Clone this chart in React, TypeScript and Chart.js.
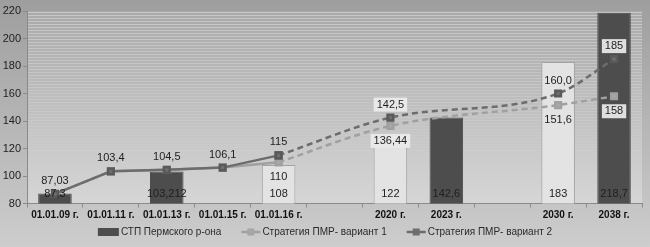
import React, { useEffect, useRef } from "react";
import { Chart, registerables } from "chart.js";

Chart.register(...registerables);

const categories = ["01.01.09 г.", "01.01.11 г.", "01.01.13 г.", "01.01.15 г.", "01.01.16 г.", "", "2020 г.", "2023 г.", "", "2030 г.", "2038 г."];
const stpValues = [87.3, null, 103.212, null, 108, null, 122, 142.6, null, 183, 218.7];
const stpLabels = ["87,3", "", "103,212", "", "108", "", "122", "142,6", "", "183", "218,7"];
const stpDark = [true, false, true, false, false, false, false, true, false, false, true];
const var1Values = [87.03, 103.4, 104.5, 106.1, 110, null, 136.44, null, null, 151.6, 158];
const var1Labels = ["", "", "", "", "110", "", "136,44", "", "", "151,6", "158"];
const var2Values = [87.03, 103.4, 104.5, 106.1, 115, null, 142.5, null, null, 160, 185];
const var2Labels = ["87,03", "103,4", "104,5", "106,1", "115", "", "142,5", "", "", "160,0", "185"];
const boxedLabels1 = [6, 10];
const boxedLabels2 = [6, 10];
const lastFactIndex = 4;
const yTicks = [80, 100, 120, 140, 160, 180, 200, 220];
const seriesNames = ["СТП Пермского р-она", "Стратегия ПМР- вариант 1", "Стратегия ПМР- вариант 2"];

const FONT = "'Liberation Sans', Arial, sans-serif";

const fact = (arr: (number | null)[]) => arr.map((v, i) => (i <= lastFactIndex ? v : null));
const plan = (arr: (number | null)[]) => arr.map((v, i) => (i >= lastFactIndex ? v : null));

const bgPlugin = {
  id: "bgPlugin",
  beforeDraw(chart: any) {
    const { ctx, width, height, chartArea } = chart;
    ctx.save();
    const g = ctx.createLinearGradient(0, 0, 0, height);
    g.addColorStop(0, "#9e9e9e");
    g.addColorStop(1, "#cdcdcd");
    ctx.fillStyle = g;
    ctx.fillRect(0, 0, width, height);
    const { left, right, top, bottom } = chartArea;
    const g2 = ctx.createLinearGradient(0, top, 0, bottom);
    g2.addColorStop(0, "#a9a9a9");
    g2.addColorStop(1, "#d6d6d6");
    ctx.fillStyle = g2;
    ctx.fillRect(left, top, right - left, bottom - top);
    for (let y = top + 1; y < bottom; y += 3) {
      const t = (y - top) / (bottom - top);
      const a = Math.max(0, 0.55 * (1 - t * 1.1));
      ctx.fillStyle = `rgba(225,225,225,${a})`;
      ctx.fillRect(left + 1, y, right - left - 1, 1);
    }
    ctx.restore();
  },
};

const labelPlugin = {
  id: "labelPlugin",
  afterDatasetsDraw(chart: any) {
    const { ctx, chartArea } = chart;
    ctx.save();
    ctx.font = `11px ${FONT}`;
    ctx.textAlign = "center";
    ctx.textBaseline = "middle";
    const barMeta = chart.getDatasetMeta(0);
    barMeta.data.forEach((el: any, i: number) => {
      if (!stpLabels[i]) return;
      ctx.fillStyle = "#1e1e1e";
      ctx.fillText(stpLabels[i], el.x, chartArea.bottom - 10);
    });
    const xs = chart.scales.x;
    const ys = chart.scales.y;
    const drawSet = (values: (number | null)[], labels: string[], boxed: number[], dy: number) => {
      values.forEach((v, i) => {
        if (!labels[i] || v == null) return;
        const x = xs.getPixelForValue(i);
        const y = ys.getPixelForValue(v) + dy;
        if (boxed.includes(i)) {
          const w = ctx.measureText(labels[i]).width + 6;
          ctx.fillStyle = "rgba(236,236,236,0.92)";
          ctx.fillRect(x - w / 2, y - 7, w, 14);
        }
        ctx.fillStyle = "#1e1e1e";
        ctx.fillText(labels[i], x, y);
      });
    };
    drawSet(var1Values, var1Labels, boxedLabels1, 15);
    drawSet(var2Values, var2Labels, boxedLabels2, -13);
    ctx.restore();
  },
};

const legendPlugin = {
  id: "legendPlugin",
  afterDraw(chart: any) {
    const { ctx, width } = chart;
    ctx.save();
    ctx.font = `10px ${FONT}`;
    ctx.textBaseline = "middle";
    const y = 232;
    const symW = [21, 19, 19];
    const gap = 20;
    const widths = seriesNames.map((n, i) => symW[i] + 2 + ctx.measureText(n).width);
    const total = widths.reduce((a, b) => a + b, 0) + gap * 2;
    let x = width / 2 - total / 2;
    seriesNames.forEach((n, i) => {
      if (i === 0) {
        ctx.fillStyle = "#4d4d4d";
        ctx.fillRect(x, y - 4, symW[0], 8);
      } else {
        const col = i === 1 ? "#a0a0a0" : "#6c6c6c";
        ctx.strokeStyle = col;
        ctx.lineWidth = 2.5;
        ctx.beginPath();
        ctx.moveTo(x, y);
        ctx.lineTo(x + symW[i], y);
        ctx.stroke();
        ctx.fillStyle = i === 1 ? "#a6a6a6" : "#6e6e6e";
        ctx.fillRect(x + symW[i] / 2 - 3.5, y - 3.5, 7, 7);
      }
      ctx.fillStyle = "#2a2a2a";
      ctx.fillText(n, x + symW[i] + 2, y);
      x += widths[i] + gap;
    });
    ctx.restore();
  },
};

const lineCommon = (color: string, pointColor: string, pointBorder: string) => ({
  type: "line" as const,
  borderColor: color,
  borderWidth: 2.5,
  pointStyle: "rect",
  pointRadius: 4,
  pointBackgroundColor: pointColor,
  pointBorderColor: pointBorder,
  spanGaps: true,
});

export default function App() {
  const ref = useRef<HTMLCanvasElement | null>(null);
  useEffect(() => {
    document.body.style.margin = "0";
    const canvas = ref.current!;
    const chart = new Chart(canvas, {
      type: "bar",
      data: {
        labels: categories,
        datasets: [
          {
            type: "bar",
            label: seriesNames[0],
            data: stpValues as any,
            backgroundColor: stpDark.map((d) => (d ? "#4d4d4d" : "#e3e3e3")),
            borderColor: stpDark.map((d) => (d ? "#4d4d4d" : "#a2a2a2")),
            borderWidth: 1,
            barPercentage: 0.6,
            categoryPercentage: 1,
            order: 5,
          },
          {
            ...lineCommon("#a0a0a0", "#a8a8a8", "#a0a0a0"),
            label: seriesNames[1],
            data: fact(var1Values) as any,
            tension: 0,
            segment: { borderDash: (c: any) => (c.p0DataIndex === 0 ? [6, 4] : undefined) },
            order: 4,
          },
          {
            ...lineCommon("#a0a0a0", "#a8a8a8", "#a0a0a0"),
            label: seriesNames[1],
            data: plan(var1Values) as any,
            cubicInterpolationMode: "monotone",
            borderDash: [6, 4],
            order: 3,
          },
          {
            ...lineCommon("#6c6c6c", "#6e6e6e", "#5a5a5a"),
            label: seriesNames[2],
            data: fact(var2Values) as any,
            tension: 0,
            order: 2,
          },
          {
            ...lineCommon("#6c6c6c", "#6e6e6e", "#5a5a5a"),
            label: seriesNames[2],
            data: plan(var2Values) as any,
            cubicInterpolationMode: "monotone",
            borderDash: [6, 4],
            order: 1,
          },
        ],
      },
      options: {
        responsive: false,
        animation: false,
        layout: { padding: { top: 11, right: 8, bottom: 23.5, left: 0 } },
        plugins: { legend: { display: false }, tooltip: { enabled: false } },
        scales: {
          x: {
            offset: true,
            grid: { offset: true, drawOnChartArea: false, color: "#8a8a8a", tickLength: 4 },
            border: { color: "#8a8a8a" },
            ticks: { color: "#111", font: { family: FONT, size: 10, weight: "bold" }, padding: 2, maxRotation: 0, autoSkip: false },
            afterFit: (s: any) => { s.height = 20; },
          },
          y: {
            min: 80,
            max: 220,
            afterBuildTicks: (s: any) => { s.ticks = yTicks.map((v) => ({ value: v })); },
            grid: { drawOnChartArea: false, color: "#8a8a8a", tickLength: 4 },
            border: { color: "#8a8a8a" },
            ticks: { color: "#222", font: { family: FONT, size: 11 }, padding: 2 },
            afterFit: (s: any) => { s.width = 27; },
          },
        },
      },
      plugins: [bgPlugin, labelPlugin, legendPlugin],
    });
    return () => chart.destroy();
  }, []);
  return <canvas ref={ref} width={650} height={247} style={{ display: "block" }} />;
}
